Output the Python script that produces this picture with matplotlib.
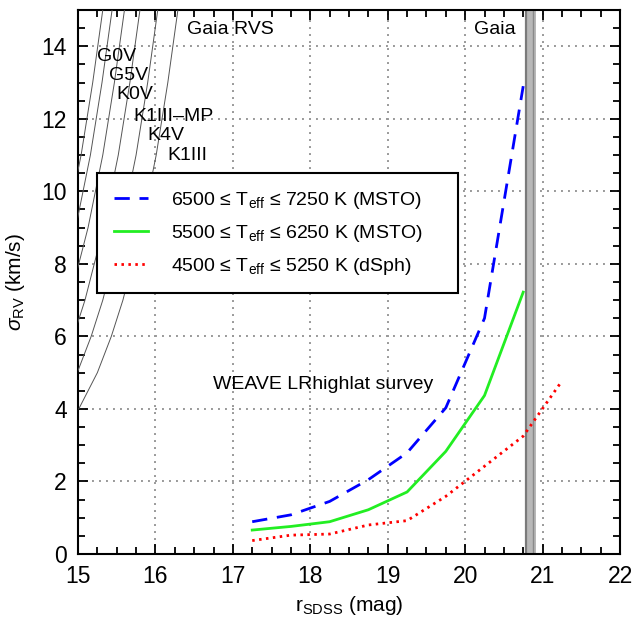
import matplotlib
matplotlib.use("Agg")
import matplotlib.pyplot as plt

plt.rcParams['font.family'] = ['Liberation Sans', 'DejaVu Sans']
plt.rcParams['mathtext.fontset'] = 'custom'
plt.rcParams['mathtext.rm'] = 'Liberation Sans'
plt.rcParams['mathtext.it'] = 'Liberation Sans:italic'
plt.rcParams['mathtext.bf'] = 'Liberation Sans:bold'

# ---- data: WEAVE survey curves ----
mag = [17.25, 17.75, 18.25, 18.75, 19.25, 19.75, 20.25, 20.75]
sig_msto_hot = [0.89, 1.08, 1.45, 2.05, 2.79, 4.03, 6.5, 12.9]
sig_msto_cool = [0.66, 0.76, 0.89, 1.22, 1.71, 2.83, 4.37, 7.22]
mag_dsph = [17.25, 17.75, 18.25, 18.75, 19.25, 19.75, 20.25, 20.75, 21.25]
sig_dsph = [0.37, 0.52, 0.55, 0.80, 0.92, 1.59, 2.42, 3.25, 4.77]

labels = ['6500 \u2264 T$_{\\rm eff}$ \u2264 7250 K (MSTO)',
          '5500 \u2264 T$_{\\rm eff}$ \u2264 6250 K (MSTO)',
          '4500 \u2264 T$_{\\rm eff}$ \u2264 5250 K (dSph)']

# ---- data: Gaia RVS curves ----
rvs_sig = [15.0, 13.0, 11.0, 9.0, 7.0, 6.0, 5.0, 4.0]
rvs_types = ['G0V', 'G5V', 'K0V', 'K1III\u2013MP', 'K4V', 'K1III']
rvs_mag = {
    'G0V':        [15.32, 15.19, 15.04, 14.85, 14.61, 14.46, 14.28, 14.04],
    'G5V':        [15.44, 15.31, 15.16, 14.97, 14.73, 14.58, 14.40, 14.16],
    'K0V':        [15.60, 15.47, 15.32, 15.13, 14.89, 14.74, 14.56, 14.32],
    'K1III\u2013MP': [15.80, 15.67, 15.52, 15.33, 15.09, 14.94, 14.76, 14.52],
    'K4V':        [16.03, 15.90, 15.75, 15.56, 15.32, 15.17, 14.99, 14.75],
    'K1III':      [16.29, 16.16, 16.01, 15.82, 15.58, 15.43, 15.25, 15.01],
}
rvs_label_x = [15.25, 15.40, 15.50, 15.71, 15.90, 16.15]
rvs_label_y = [13.73, 13.20, 12.67, 12.06, 11.55, 10.98]

gaia_band = (20.77, 20.91)

xticks = [15, 16, 17, 18, 19, 20, 21, 22]
yticks = [0, 2, 4, 6, 8, 10, 12, 14]

fig = plt.figure(figsize=(6.38, 6.19), dpi=100)
ax = fig.add_axes([78/638, 1-554/619, 542/638, 544/619])

ax.set_xlim(15, 22)
ax.set_ylim(0, 15)

# grid
for xv in xticks[1:-1]:
    ax.axvline(xv, color='#999999', lw=1.4, dashes=(1, 2.6), zorder=1)
for yv in yticks[1:]:
    ax.axhline(yv, color='#999999', lw=1.4, dashes=(1, 2.6), zorder=1)

# Gaia band
ax.axvspan(gaia_band[0], gaia_band[1], color='#b8b8b8', lw=0, zorder=2)
ax.axvline(gaia_band[0] + 0.012, color='#7a7a7a', lw=1.6, zorder=2)
ax.axvline(gaia_band[1] - 0.04, color='#8a8a8a', lw=1.0, zorder=2)

# Gaia RVS curves
for name, lx, ly in zip(rvs_types, rvs_label_x, rvs_label_y):
    ax.plot(rvs_mag[name], rvs_sig, color='#555555', lw=0.7, zorder=3)
    ax.text(lx, ly, name, fontsize=14, ha='left', va='center', zorder=4)

# survey curves
l1, = ax.plot(mag, sig_msto_hot, color='#0000ff', lw=2.0, dashes=(5.5, 3.5), zorder=5)
l2, = ax.plot(mag, sig_msto_cool, color='#22ee22', lw=2.0, zorder=5)
l3, = ax.plot(mag_dsph, sig_dsph, color='#ff0000', lw=2.0, dashes=(0.9, 1.6), zorder=5)

leg = ax.legend([l1, l2, l3], labels, loc='upper left', mode='expand',
                bbox_to_anchor=(0.0356, 0.485, 0.666, 0.215), borderaxespad=0,
                fontsize=14, frameon=True, fancybox=False,
                handlelength=1.75, handletextpad=1.2, labelspacing=0.62,
                borderpad=0.85)
leg.get_frame().set_edgecolor('black')
leg.get_frame().set_linewidth(1.5)
leg.get_frame().set_alpha(1)
leg.set_zorder(6)

ax.text(16.41, 14.47, 'Gaia RVS', fontsize=14, ha='left', va='center')
ax.text(20.11, 14.47, 'Gaia', fontsize=14, ha='left', va='center')
ax.text(16.74, 4.67, 'WEAVE LRhighlat survey', fontsize=14, ha='left', va='center')

ax.set_xticks(xticks)
ax.set_yticks(yticks)
ax.set_xticks([15 + 0.25*i for i in range(29)], minor=True)
ax.set_yticks([0.5*i for i in range(31)], minor=True)
ax.tick_params(which='both', direction='in', top=True, right=True, width=1.3, color='black')
ax.tick_params(which='major', length=7, labelsize=16.5, pad=8)
ax.tick_params(which='minor', length=5)
for s in ax.spines.values():
    s.set_linewidth(1.5)

ax.set_xlabel(r'r$_{\rm SDSS}$ (mag)', fontsize=15, labelpad=4)
ax.set_ylabel(r'$\sigma_{\rm RV}$ (km/s)', fontsize=15, labelpad=10)

fig.savefig('out.png', dpi=100)
